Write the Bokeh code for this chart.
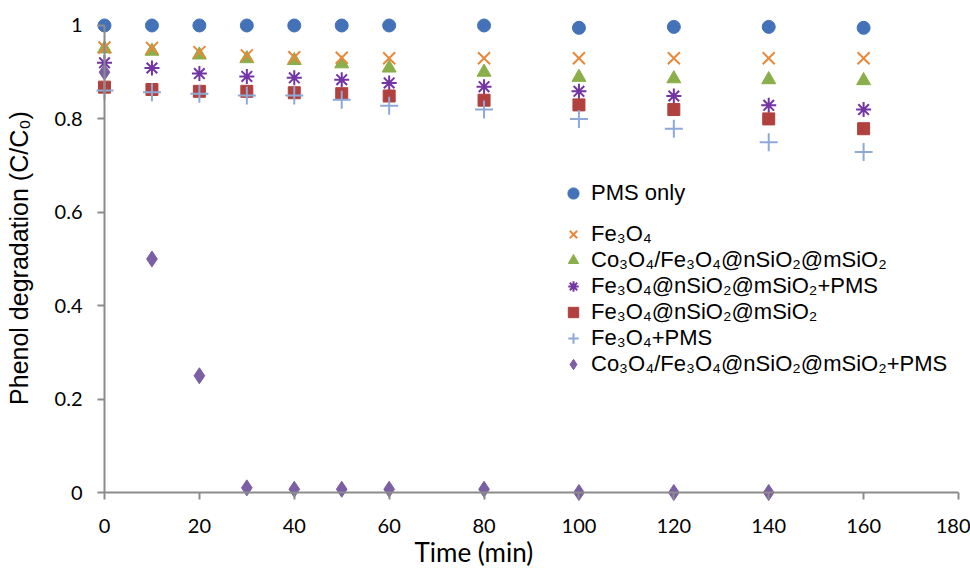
from bokeh.plotting import figure
from bokeh.models import (Range1d, FixedTicker, NumeralTickFormatter, Legend, LegendItem,
                          LinearAxis, Title)
from bokeh.embed import file_html
from bokeh.resources import INLINE

# ---- data ----
time = [0, 10, 20, 30, 40, 50, 60, 80, 100, 120, 140, 160]
pms_only = [1.0, 1.0, 1.0, 1.0, 1.0, 1.0, 1.0, 1.0, 0.995, 0.997, 0.997, 0.995]
fe3o4 = [0.953, 0.952, 0.943, 0.936, 0.932, 0.931, 0.930, 0.930, 0.930, 0.930, 0.930, 0.930]
co_fe_si = [0.950, 0.945, 0.937, 0.929, 0.925, 0.918, 0.909, 0.900, 0.889, 0.886, 0.884, 0.882]
fe_si_pms = [0.920, 0.909, 0.897, 0.891, 0.888, 0.884, 0.877, 0.869, 0.859, 0.849, 0.829, 0.820]
fe_si = [0.868, 0.863, 0.859, 0.859, 0.856, 0.854, 0.849, 0.840, 0.830, 0.820, 0.800, 0.779]
fe3o4_pms = [0.861, 0.857, 0.854, 0.850, 0.850, 0.841, 0.828, 0.820, 0.800, 0.779, 0.750, 0.729]
time_co_pms = [0, 10, 20, 30, 40, 50, 60, 80, 100, 120, 140]
co_fe_si_pms = [0.900, 0.500, 0.250, 0.010, 0.007, 0.007, 0.007, 0.007, 0.000, 0.000, 0.000]

x_ticks = [0, 20, 40, 60, 80, 100, 120, 140, 160, 180]
y_ticks = [0, 0.2, 0.4, 0.6, 0.8, 1.0]

labels = [
    "PMS only",
    "Fe\u2083O\u2084",
    "Co\u2083O\u2084/Fe\u2083O\u2084@nSiO\u2082@mSiO\u2082",
    "Fe\u2083O\u2084@nSiO\u2082@mSiO\u2082+PMS",
    "Fe\u2083O\u2084@nSiO\u2082@mSiO\u2082",
    "Fe\u2083O\u2084+PMS",
    "Co\u2083O\u2084/Fe\u2083O\u2084@nSiO\u2082@mSiO\u2082+PMS",
]
x_title = "Time (min)"
y_title = "Phenol degradation (C/C\u2080)"

p = figure(width=970, height=571, output_backend="svg", toolbar_location=None,
           x_range=Range1d(-1.686, 180.843), y_range=Range1d(-0.0278, 1.0321),
           x_axis_location=None, y_axis_location=None,
           min_border_left=96, min_border_right=8, min_border_top=10, min_border_bottom=66)
p.title = None
p.outline_line_color = None
for g in p.grid:
    g.visible = False
p.background_fill_color = "white"
p.border_fill_color = "white"

axis_color = "#8C8C8C"


def line_axis(ticks, bounds):
    # axis line + outward ticks, drawn at data value 0 of the other dimension
    ax = LinearAxis(fixed_location=0, bounds=bounds, ticker=FixedTicker(ticks=ticks))
    ax.axis_line_color = axis_color
    ax.axis_line_width = 2
    ax.major_tick_line_color = axis_color
    ax.major_tick_line_width = 2
    ax.major_tick_out = 7
    ax.major_tick_in = 0
    ax.minor_tick_out = 0
    ax.minor_tick_in = 0
    ax.major_label_text_font_size = "0px"
    ax.major_label_text_color = None
    ax.major_label_standoff = 0
    return ax


def label_axis(ticks, bounds, standoff):
    # tick labels only, at the frame edge
    ax = LinearAxis(bounds=bounds, ticker=FixedTicker(ticks=ticks))
    ax.axis_line_color = None
    ax.major_tick_line_color = None
    ax.minor_tick_line_color = None
    ax.major_tick_out = 0
    ax.major_tick_in = 0
    ax.minor_tick_out = 0
    ax.minor_tick_in = 0
    ax.major_label_text_font = "Lato"
    ax.major_label_text_font_size = "20px"
    ax.major_label_text_color = "black"
    ax.major_label_standoff = standoff
    return ax


p.add_layout(line_axis(x_ticks, (0, 180)), "below")
p.add_layout(line_axis(y_ticks, (0, 1)), "left")

xl = label_axis(x_ticks, (0, 180), 13)
p.add_layout(xl, "below")

yl = label_axis(y_ticks, (0, 1), 14)
yl.formatter = NumeralTickFormatter(format="0.[0]")
yl.axis_label = y_title
yl.axis_label_text_font = "Liberation Sans"
yl.axis_label_text_font_size = "25px"
yl.axis_label_text_font_style = "normal"
yl.axis_label_text_color = "black"
yl.axis_label_standoff = 19
p.add_layout(yl, "left")

p.add_layout(Title(text=x_title, align="left", offset=318, vertical_align="top", standoff=0,
                   text_font="Lato", text_font_size="26px", text_font_style="normal",
                   text_color="black"), "below")

r_tri = p.scatter(time, co_fe_si, marker="triangle", size=14, fill_color="#8AAE4A", line_color="#8AAE4A")
r_x = p.scatter(time, fe3o4, marker="x", size=17, line_color="#E8883A", line_width=2)
r_ast = p.scatter(time, fe_si_pms, marker="asterisk", size=15, line_color="#7334A4", line_width=2)
r_dia = p.scatter(time_co_pms, co_fe_si_pms, marker="diamond", size=16, fill_color="#7A5FA5", line_color="#7A5FA5")
r_sq = p.scatter(time, fe_si, marker="square", size=12, fill_color="#B0413E", line_color="#B0413E")
r_plus = p.scatter(time, fe3o4_pms, marker="cross", size=18, line_color="#8EA9D8", line_width=2)
r_circ = p.scatter(time, pms_only, marker="circle", size=13, fill_color="#4472B8", line_color="#4472B8")

renderers = [r_circ, r_x, r_tri, r_ast, r_sq, r_plus, r_dia]
items = [LegendItem(label=l, renderers=[r]) for l, r in zip(labels, renderers)]

legend_style = dict(spacing=0, padding=0, margin=0, border_line_color=None,
                    background_fill_alpha=0, label_text_font="Liberation Sans",
                    label_text_font_size="22px", label_text_color="black")

legend_top = Legend(items=items[:1], location=(463, 298), glyph_width=28, glyph_height=28,
                    label_height=28, label_standoff=4, **legend_style)
legend_rest = Legend(items=items[1:], location=(464, 128), glyph_width=26, glyph_height=26,
                     label_height=26, label_standoff=5, **legend_style)
p.add_layout(legend_top)
p.add_layout(legend_rest)

open("out.html", "w").write(file_html(p, INLINE))
